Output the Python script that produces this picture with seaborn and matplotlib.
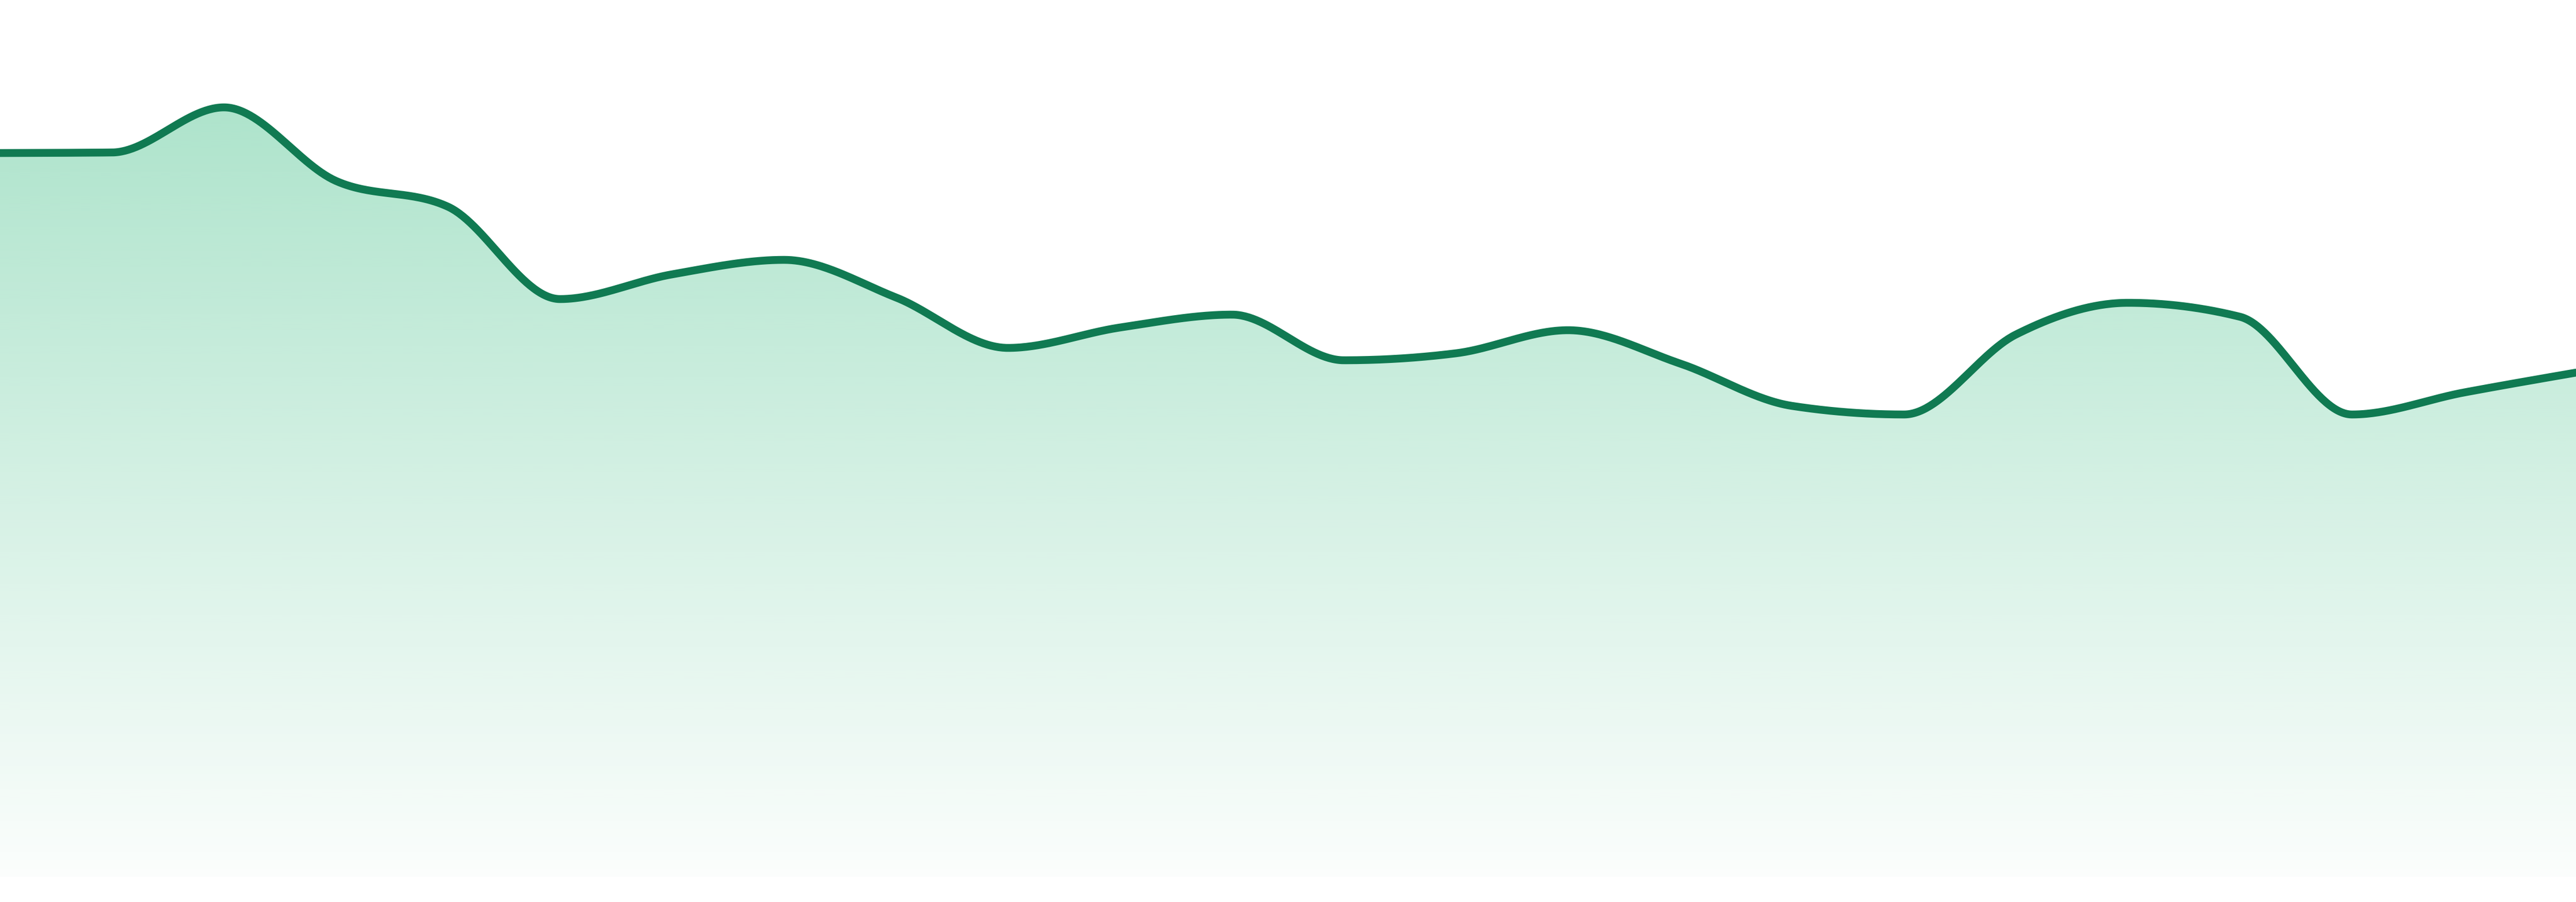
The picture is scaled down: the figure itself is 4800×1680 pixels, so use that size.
import numpy as np
import pandas as pd
import seaborn as sns
import matplotlib
matplotlib.use("Agg")
import matplotlib.pyplot as plt
from matplotlib.patches import Polygon
from matplotlib.colors import to_rgb

# values, one per evenly spaced step
steps = list(range(24))
values = [134.8, 134.9, 143.3, 129.6, 124.8, 107.6, 112.2, 114.9,
          107.9, 98.5, 102.3, 104.7, 96.2, 97.5, 101.8, 95.6,
          87.7, 86.1, 101.0, 106.9, 104.3, 86.1, 90.2, 93.9]

line_color = "#107a52"
fill_color = "#34bb7f"


# monotone cubic curve (same idea as d3 curveMonotoneX), only for drawing
def monotone_curve(xv, yv, n=60):
    x = np.asarray(xv, float)
    y = np.asarray(yv, float)
    h = np.diff(x)
    s = np.diff(y) / h
    m = np.zeros_like(y)
    for i in range(1, len(y) - 1):
        s0, s1 = s[i - 1], s[i]
        p = (s0 * h[i] + s1 * h[i - 1]) / (h[i - 1] + h[i])
        m[i] = (np.sign(s0) + np.sign(s1)) * min(abs(s0), abs(s1), 0.5 * abs(p))
    m[0] = (3 * s[0] - m[1]) / 2
    m[-1] = (3 * s[-1] - m[-2]) / 2
    xs, ys = [], []
    for i in range(len(x) - 1):
        t = np.linspace(0, 1, n, endpoint=(i == len(x) - 2))
        h00 = 2 * t**3 - 3 * t**2 + 1
        h10 = t**3 - 2 * t**2 + t
        h01 = -2 * t**3 + 3 * t**2
        h11 = t**3 - t**2
        xs.append(x[i] + t * h[i])
        ys.append(h00 * y[i] + h10 * h[i] * m[i] + h01 * y[i + 1] + h11 * h[i] * m[i + 1])
    return np.concatenate(xs), np.concatenate(ys)


xs, ys = monotone_curve(steps, values)
df = pd.DataFrame({"step": xs, "value": ys})

sns.set_style("white")
fig = plt.figure(figsize=(16, 5.6), dpi=300)
ax = fig.add_axes([0, 47 / 1680, 1, 1633 / 1680])

# gradient fill under the line
top = 163.3
rows = 400
lev = np.linspace(0, top, rows)
alpha = np.clip(0.02 + 0.38 * lev / max(values), 0, 0.42)
grad = np.zeros((rows, 1, 4))
grad[:, 0, :3] = to_rgb(fill_color)
grad[:, 0, 3] = alpha
im = ax.imshow(grad, extent=[steps[0], steps[-1], 0, top], aspect="auto",
               origin="lower", interpolation="bilinear", zorder=1)
verts = np.column_stack([np.r_[xs, xs[-1], xs[0]], np.r_[ys, 0, 0]])
clip = Polygon(verts, closed=True, facecolor="none", edgecolor="none")
ax.add_patch(clip)
im.set_clip_path(clip)

sns.lineplot(data=df, x="step", y="value", ax=ax, color=line_color,
             linewidth=3.5, sort=False, zorder=3)

ax.set_xlim(steps[0], steps[-1])
ax.set_ylim(0, top)
ax.set_axis_off()

fig.savefig("out.png", dpi=300, facecolor="white")
